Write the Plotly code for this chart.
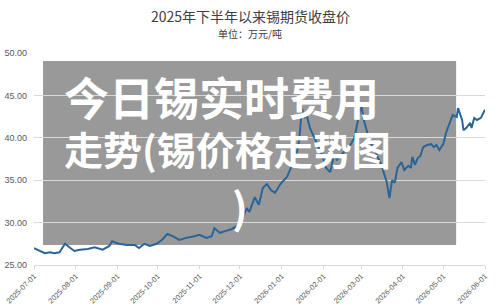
import plotly.graph_objects as go

dates = [
    "2025-07-01", "2025-07-05", "2025-07-09", "2025-07-13", "2025-07-16", "2025-07-20", "2025-07-24", "2025-07-28",
    "2025-07-31", "2025-08-04", "2025-08-10", "2025-08-15", "2025-08-21", "2025-08-26", "2025-08-28", "2025-09-02",
    "2025-09-08", "2025-09-14", "2025-09-17", "2025-09-21", "2025-09-25", "2025-09-30", "2025-10-04", "2025-10-08",
    "2025-10-12", "2025-10-17", "2025-10-22", "2025-10-28", "2025-11-01", "2025-11-06", "2025-11-10", "2025-11-12",
    "2025-11-16", "2025-11-20", "2025-11-25", "2025-11-29", "2025-12-03", "2025-12-06", "2025-12-08", "2025-12-12",
    "2025-12-15", "2025-12-18", "2025-12-21", "2025-12-24", "2025-12-27", "2025-12-31", "2026-01-05", "2026-01-08",
    "2026-01-12", "2026-01-14", "2026-01-16", "2026-01-18", "2026-01-19", "2026-01-22", "2026-01-26", "2026-01-31",
    "2026-02-03", "2026-02-06", "2026-02-09", "2026-02-11", "2026-02-16", "2026-02-20", "2026-02-24", "2026-02-27",
    "2026-03-01", "2026-03-03", "2026-03-07", "2026-03-11", "2026-03-16", "2026-03-20", "2026-03-22", "2026-03-24",
    "2026-03-26", "2026-03-28", "2026-03-31", "2026-04-02", "2026-04-05", "2026-04-07", "2026-04-08", "2026-04-10",
    "2026-04-12", "2026-04-14", "2026-04-16", "2026-04-19", "2026-04-22", "2026-04-24", "2026-04-26", "2026-04-28",
    "2026-05-01", "2026-05-03", "2026-05-06", "2026-05-08", "2026-05-11", "2026-05-12", "2026-05-15", "2026-05-16",
    "2026-05-18", "2026-05-21", "2026-05-22", "2026-05-24", "2026-05-26", "2026-05-29", "2026-05-30", "2026-06-01",
]
prices = [
    27.0, 26.65, 26.4, 26.5, 26.4, 26.5, 27.5, 27.0,
    26.65, 26.8, 26.9, 27.1, 26.8, 27.25, 27.8, 27.5,
    27.35, 27.35, 27.0, 27.5, 27.25, 27.5, 27.95, 28.65,
    28.4, 27.95, 28.2, 28.4, 28.55, 28.2, 28.4, 29.35,
    28.8, 29.0, 29.25, 29.6, 30.55, 31.7, 31.25, 33.0,
    32.1, 34.1, 34.55, 33.85, 33.5, 34.55, 35.4, 36.55,
    38.0, 39.75, 43.5, 42.3, 43.0, 41.15, 39.75, 38.0,
    36.45, 35.95, 38.0, 37.4, 38.3, 38.9, 40.0, 42.35,
    43.9, 42.1, 39.75, 38.55, 36.8, 34.8, 32.9, 35.0,
    34.7, 36.45, 37.15, 36.2, 36.7, 36.45, 37.75, 36.8,
    37.6, 37.85, 38.9, 39.15, 39.25, 38.9, 39.15, 38.55,
    39.25, 40.55, 41.75, 42.7, 42.45, 43.5, 42.1, 40.9,
    41.15, 41.75, 41.15, 42.35, 42.1, 42.35, 42.7, 43.3,
]

title_text = "2025年下半年以来锡期货收盘价"
subtitle_text = "单位：万元/吨"
overlay_line1 = "今日锡实时费用"
overlay_line2 = "走势(锡价格走势图"
overlay_line3 = ")"

cjk = "Noto Sans CJK SC"

fig = go.Figure()
fig.add_trace(go.Scatter(
    x=dates, y=prices, mode="lines",
    line=dict(color="#2b6496", width=2),
    hoverinfo="skip", showlegend=False,
))

fig.update_layout(
    width=500, height=307,
    margin=dict(l=34, r=15, t=53, b=42, autoexpand=False),
    paper_bgcolor="white", plot_bgcolor="white",
    font=dict(family="Liberation Sans, Arial, sans-serif", color="#595959"),
    xaxis=dict(
        type="date", range=["2025-07-01", "2026-06-01"],
        dtick="M1", tick0="2025-07-01", tickformat="%Y-%m-%d",
        tickangle=-45, tickfont=dict(size=7.5, color="#595959"),
        showgrid=False, showline=True, linecolor="#d9d9d9", linewidth=1,
        ticks="outside", ticklen=3, tickcolor="#d9d9d9", zeroline=False,
        automargin=False,
    ),
    yaxis=dict(
        range=[25, 50], dtick=5, tickformat=".2f",
        tickfont=dict(size=9, color="#595959"),
        showgrid=True, gridcolor="#d9d9d9", gridwidth=1,
        zeroline=False, showline=False, ticklabelstandoff=6,
        automargin=False,
    ),
    shapes=[dict(
        type="rect", xref="paper", yref="paper",
        x0=0.02, x1=0.936, y0=0.094, y1=0.962,
        fillcolor="rgba(110,110,110,0.7)", line=dict(width=0), layer="between",
    )],
    annotations=[
        dict(text=title_text, xref="paper", yref="paper", x=(250 - 34) / 451, y=1.175,
             showarrow=False, xanchor="center", yanchor="middle",
             font=dict(family=cjk, size=14, color="#404040")),
        dict(text=subtitle_text, xref="paper", yref="paper", x=(250 - 34) / 451, y=1.09,
             showarrow=False, xanchor="center", yanchor="middle",
             font=dict(family=cjk, size=10, color="#404040")),
        dict(text="<b>" + overlay_line1 + "</b>", xref="paper", yref="paper", x=0.064, y=0.797,
             showarrow=False, xanchor="left", yanchor="middle", borderpad=0,
             font=dict(family=cjk, size=45, color="white")),
        dict(text="<b>" + overlay_line2 + "</b>", xref="paper", yref="paper", x=0.064, y=0.552,
             showarrow=False, xanchor="left", yanchor="middle", borderpad=0,
             font=dict(family=cjk, size=39, color="white")),
        dict(text="<b>" + overlay_line3 + "</b>", xref="paper", yref="paper", x=0.457, y=0.28,
             showarrow=False, xanchor="center", yanchor="middle", borderpad=0,
             font=dict(family=cjk, size=42, color="white")),
    ],
)

fig.write_html("out.html")
